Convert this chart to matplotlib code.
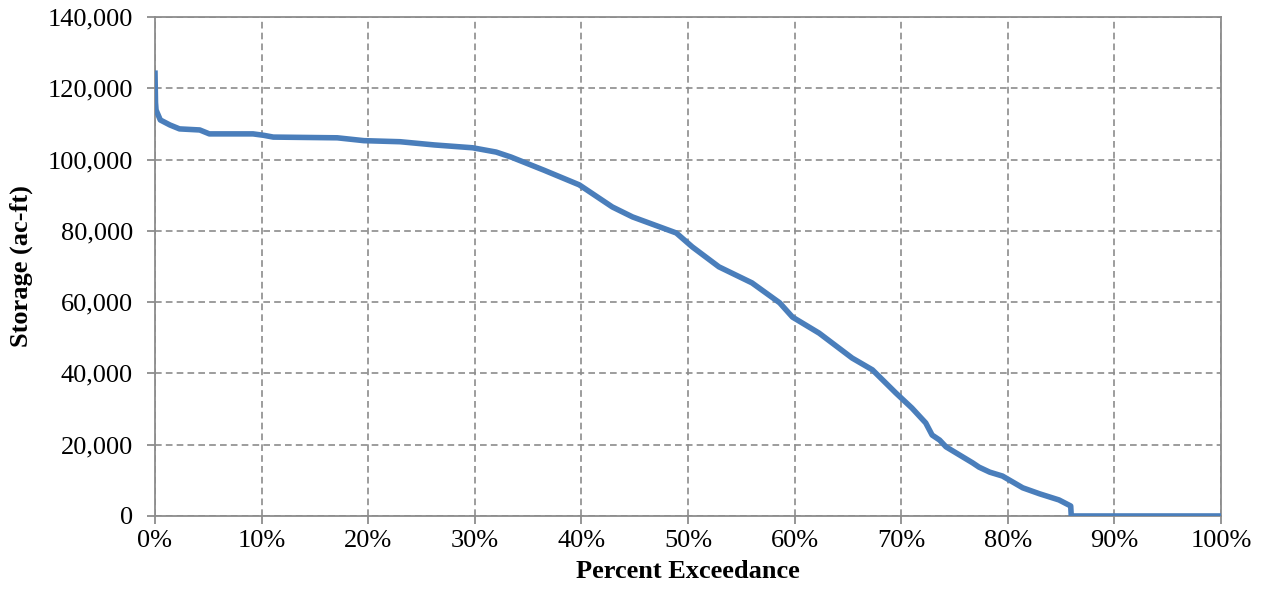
import matplotlib
matplotlib.use("Agg")
import matplotlib.pyplot as plt
from matplotlib.ticker import FuncFormatter, MultipleLocator

# exceedance (%) and storage (ac-ft)
exceed = [0, 0.05, 0.1, 0.5, 1.4, 2.3, 4.2, 5.1, 9.2, 10.2, 11.1, 17.1, 19.6,
          23.0, 26.2, 29.8, 32.0, 33.4, 36.5, 39.8, 42.9, 44.8, 48.9, 50.4,
          52.9, 56.0, 58.6, 59.8, 62.3, 65.4, 67.3, 69.5, 71.0, 72.3, 72.9,
          73.6, 74.2, 76.7, 77.3, 78.3, 79.5, 81.4, 83.0, 84.8, 85.9, 85.95,
          100]
storage = [125000, 116000, 113900, 111100, 109700, 108600, 108300, 107200,
           107200, 106800, 106300, 106100, 105300, 105000, 104100, 103300,
           102100, 100700, 97000, 92900, 86700, 83900, 79400, 75500, 69900,
           65400, 59800, 55800, 51300, 44300, 41000, 34500, 30300, 26100,
           22700, 21300, 19400, 14900, 13700, 12300, 11200, 7900, 6200, 4500,
           2800, 0, 0]

plt.rcParams['font.family'] = ['Liberation Serif', 'DejaVu Serif']

fig = plt.figure(figsize=(12.61, 6.02), dpi=100)
ax = fig.add_axes([0.1229, 0.1429, 0.8454, 0.8289])

ax.plot(exceed, storage, color='#4a7ebb', lw=4, solid_joinstyle='round',
        solid_capstyle='butt', zorder=3)

ax.set_xlim(0, 100)
ax.set_ylim(0, 140000)
ax.xaxis.set_major_locator(MultipleLocator(10))
ax.yaxis.set_major_locator(MultipleLocator(20000))
ax.xaxis.set_major_formatter(FuncFormatter(lambda v, p: '%d%%' % v))
ax.yaxis.set_major_formatter(FuncFormatter(lambda v, p: '{:,.0f}'.format(v)))

ax.grid(True, color='#8c8c8c', linestyle=(0, (4, 2.5)), linewidth=1.2)
for s in ax.spines.values():
    s.set_color('#8c8c8c')
    s.set_linewidth(1.3)
ax.tick_params(axis='both', colors='#8c8c8c', length=6, width=1.3,
               labelsize=19, labelcolor='black')
ax.tick_params(axis='x', pad=4)
ax.tick_params(axis='y', pad=10)

ax.set_xlabel('Percent Exceedance', fontsize=19, fontweight='bold', labelpad=6)
ax.set_ylabel('Storage (ac-ft)', fontsize=19, fontweight='bold', labelpad=10)

fig.savefig('out.png', dpi=100)
